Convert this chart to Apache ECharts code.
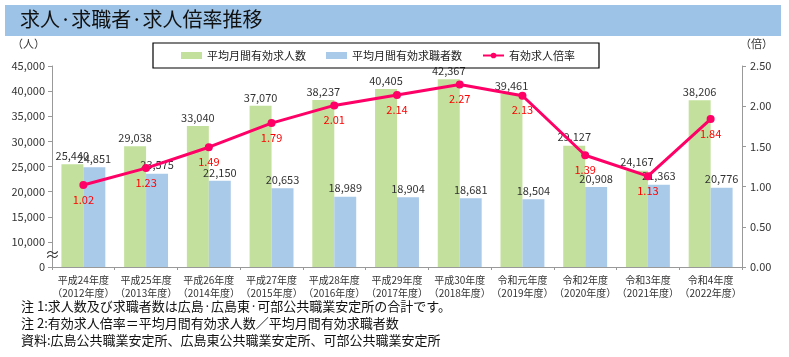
<!DOCTYPE html>
<html><head><meta charset="utf-8">
<script src="https://cdn.jsdelivr.net/npm/echarts@6/dist/echarts.min.js"></script>
<style>html,body{margin:0;padding:0;background:#fff}#c{width:789px;height:357px}</style>
</head><body><div id="c"></div>
<script>
const categories = ['平成24年度\n（2012年度）','平成25年度\n（2013年度）','平成26年度\n（2014年度）','平成27年度\n（2015年度）','平成28年度\n（2016年度）','平成29年度\n（2017年度）','平成30年度\n（2018年度）','令和元年度\n（2019年度）','令和2年度\n（2020年度）','令和3年度\n（2021年度）','令和4年度\n（2022年度）'];
const jobOffers = [25440, 29038, 33040, 37070, 38237, 40405, 42367, 39461, 29127, 24167, 38206];
const jobSeekers = [24851, 23575, 22150, 20653, 18989, 18904, 18681, 18504, 20908, 21363, 20776];
const ratio = [1.02, 1.23, 1.49, 1.79, 2.01, 2.14, 2.27, 2.13, 1.39, 1.13, 1.84];
const seriesNames = ['平均月間有効求人数','平均月間有効求職者数','有効求人倍率'];
const notes = ['注 1:求人数及び求職者数は広島·広島東·可部公共職業安定所の合計です。','注 2:有効求人倍率＝平均月間有効求人数／平均月間有効求職者数','資料:広島公共職業安定所、広島東公共職業安定所、可部公共職業安定所'];
const title = '求人·求職者·求人倍率推移';

const FONT = '"Noto Sans CJK JP", "Noto Sans", sans-serif';
const chart = echarts.init(document.getElementById('c'));
const fmt = v => v.toLocaleString('en-US');
chart.setOption({
  animation: false,
  textStyle: {fontFamily: FONT},
  grid: {left: 52, right: 47, top: 66, bottom: 90},
  legend: {
    left: 153, top: 43,
    padding: [7, 24, 7, 28],
    borderColor: '#000', borderWidth: 1.2,
    itemWidth: 21, itemHeight: 7, itemGap: 20,
    textStyle: {fontSize: 11, color: '#222', fontFamily: FONT},
    data: [
      {name: seriesNames[0], icon: 'rect'},
      {name: seriesNames[1], icon: 'rect'},
      {name: seriesNames[2]}
    ]
  },
  xAxis: {
    type: 'category', data: categories,
    axisLine: {lineStyle: {color: '#999'}},
    axisTick: {show: true, length: 3, lineStyle: {color: '#999'}},
    axisLabel: {fontSize: 10, color: '#333', lineHeight: 13, margin: 7, interval: 0, fontFamily: FONT}
  },
  yAxis: [
    {
      type: 'value', min: 5000, max: 45000, interval: 5000,
      splitLine: {show: false},
      axisLine: {show: true, lineStyle: {color: '#999'}},
      axisTick: {show: true, length: 4, lineStyle: {color: '#999'}},
      axisLabel: {fontSize: 11, color: '#333', margin: 7, formatter: v => v === 5000 ? '0' : fmt(v), fontFamily: FONT}
    },
    {
      type: 'value', min: 0, max: 2.5, interval: 0.5,
      splitLine: {show: false},
      axisLine: {show: true, lineStyle: {color: '#999'}},
      axisTick: {show: true, length: 4, lineStyle: {color: '#999'}},
      axisLabel: {fontSize: 11, color: '#333', margin: 8, formatter: v => v.toFixed(2), fontFamily: FONT}
    }
  ],
  series: [
    {
      name: seriesNames[0], type: 'bar', data: jobOffers, barGap: '0%', barCategoryGap: '30%',
      itemStyle: {color: '#C3E09C'},
      label: {show: true, position: 'top', distance: 3, fontSize: 11, color: '#333', formatter: p => fmt(p.value), fontFamily: FONT}
    },
    {
      name: seriesNames[1], type: 'bar', data: jobSeekers,
      itemStyle: {color: '#AACAE9'},
      label: {show: true, position: 'top', distance: 3, fontSize: 11, color: '#333', formatter: p => fmt(p.value), fontFamily: FONT}
    },
    {
      name: seriesNames[2], type: 'line', yAxisIndex: 1, data: ratio,
      symbol: 'circle', symbolSize: 8,
      lineStyle: {color: '#FF0066', width: 3},
      itemStyle: {color: '#FF0066'},
      label: {show: true, position: 'bottom', distance: 5, fontSize: 11, color: '#FF0000', formatter: p => p.value.toFixed(2), fontFamily: FONT},
      z: 5
    }
  ],
  graphic: [
    {type: 'rect', left: 5, top: 5, shape: {width: 776, height: 31}, style: {fill: '#9DC3E6'}, z: -1},
    {type: 'text', left: 20, top: 9, style: {text: title, fontSize: 20, fill: '#111', fontFamily: FONT}},
    {type: 'text', left: 12, top: 38, style: {text: '（人）', fontSize: 11, fill: '#333', fontFamily: FONT}},
    {type: 'text', left: 740, top: 38, style: {text: '（倍）', fontSize: 11, fill: '#333', fontFamily: FONT}},
    {type: 'text', left: 45, top: 247, style: {text: '≈', fontSize: 15, fill: '#333', fontFamily: FONT}, z: 10},
    {type: 'text', left: 21, top: 300, style: {text: notes[0], fontSize: 13, fill: '#111', fontFamily: FONT}},
    {type: 'text', left: 21, top: 317, style: {text: notes[1], fontSize: 13, fill: '#111', fontFamily: FONT}},
    {type: 'text', left: 21, top: 334, style: {text: notes[2], fontSize: 13, fill: '#111', fontFamily: FONT}}
  ]
});
</script></body></html>
